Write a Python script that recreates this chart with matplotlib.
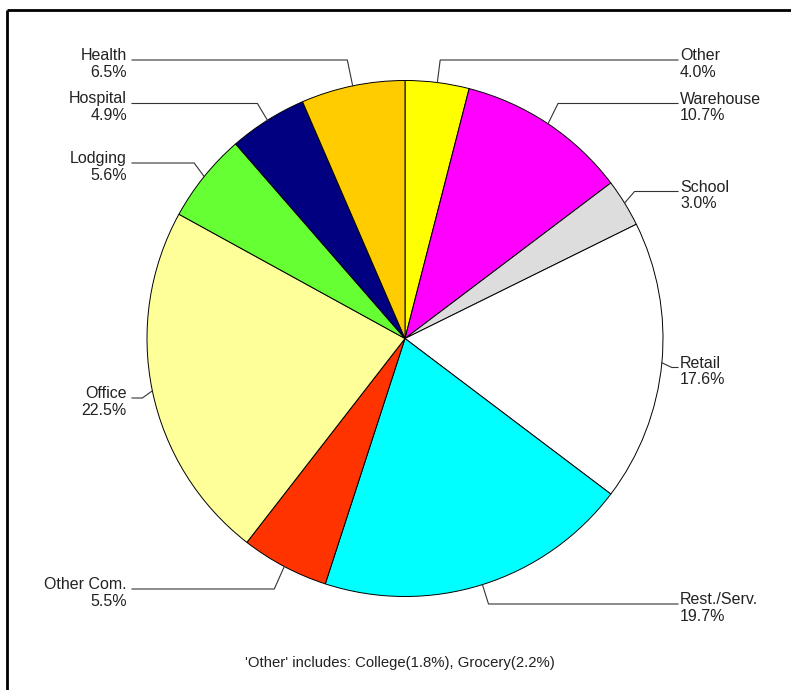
import numpy as np
import matplotlib
matplotlib.use('Agg')
import matplotlib.pyplot as plt

plt.rcParams['font.family'] = ['Liberation Sans', 'DejaVu Sans']

# ---------------------------
# Data (clockwise from 12 o'clock)
# ---------------------------
categories = ["Other", "Warehouse", "School", "Retail", "Rest./Serv.",
              "Other Com.", "Office", "Lodging", "Hospital", "Health"]
shares = [4.0, 10.7, 3.0, 17.6, 19.7, 5.5, 22.5, 5.6, 4.9, 6.5]
colors = ["#FFFF00", "#FF00FF", "#DDDDDD", "#FFFFFF", "#00FFFF",
          "#FF3300", "#FFFF99", "#66FF33", "#000080", "#FFCC00"]
note = "'Other' includes: College(1.8%), Grocery(2.2%)"

# label layout: baseline of first text line in pixels (from top)
label_y = [60, 103.5, 191.5, 367.5, 604, 589, 398, 163, 103.5, 60]

W, H = 791, 690
CX, CY, R = 405, 338.5, 258
RIGHT_X, LEFT_X = 678, 132   # where the horizontal leader ends
TXT_R, TXT_L = 680, 127
LINE_GAP = 17
FS = 11.5


def py(p):
    # pixel row -> data y (axes run bottom-up)
    return H - p


fig = plt.figure(figsize=(W / 100, H / 100), dpi=100)
ax = fig.add_axes([0, 0, 1, 1])

wedges, _ = ax.pie(shares, colors=colors, startangle=90, counterclock=False,
                   center=(CX, py(CY)), radius=R, frame=True,
                   wedgeprops=dict(edgecolor='black', linewidth=0.7))
ax.set_xlim(0, W)
ax.set_ylim(0, H)
ax.set_aspect('equal')
ax.axis('off')

# leader lines and labels
for w, name, val, ly in zip(wedges, categories, shares, label_y):
    mid = np.deg2rad((w.theta1 + w.theta2) / 2)
    dx, dy = np.cos(mid), np.sin(mid)
    ex, ey = CX + R * dx, py(CY) + R * dy
    lyd = py(ly)
    right = dx > 0
    if abs(dy) > 1e-6:
        off = (lyd - ey) / dy * dx
    else:
        off = 10
    off = np.clip(abs(off), 2, 10) * (1 if right else -1)
    bx = ex + off
    endx = RIGHT_X if right else LEFT_X
    ax.plot([ex, bx, endx], [ey, lyd, lyd], color='#333333', lw=0.8,
            solid_joinstyle='miter')
    tx = TXT_R if right else TXT_L
    ha = 'left' if right else 'right'
    ax.text(tx, lyd, name, ha=ha, va='baseline', fontsize=FS, color='#222222')
    ax.text(tx, lyd - LINE_GAP, f"{val:.1f}%", ha=ha, va='baseline',
            fontsize=FS, color='#222222')

ax.text(400, py(667), note, ha='center', va='baseline', fontsize=10.7,
        color='#222222')

# outer frame (only left and top edges fall inside the picture)
ax.plot([7, 7], [py(10), 0], color='black', lw=2, solid_capstyle='butt')
ax.plot([7, W], [py(10), py(10)], color='black', lw=2, solid_capstyle='butt')

plt.savefig("out.png", dpi=100)
plt.close()
